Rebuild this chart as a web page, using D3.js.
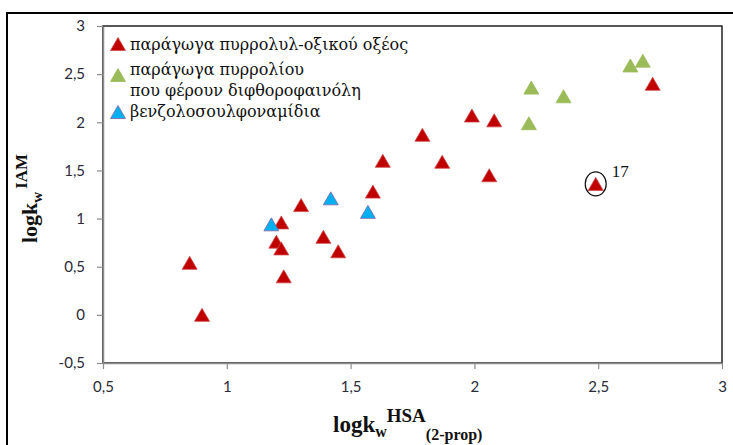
<!DOCTYPE html>
<html>
<head>
<meta charset="utf-8">
<script src="https://cdn.jsdelivr.net/npm/d3@7"></script>
<style>
  html, body { margin: 0; padding: 0; background: #fff; }
  svg { display: block; }
</style>
</head>
<body>
<svg id="chart" width="733" height="445"></svg>
<script>
// Three compound families: x = logkw HSA (2-prop), y = logkw IAM
const redX   = [0.85, 0.90, 1.22, 1.20, 1.22, 1.23, 1.30, 1.39, 1.45, 1.59, 1.63, 1.79, 1.87, 1.99, 2.08, 2.06, 2.49, 2.72];
const redY   = [0.54, 0.00, 0.96, 0.76, 0.69, 0.40, 1.14, 0.81, 0.66, 1.28, 1.60, 1.87, 1.59, 2.07, 2.02, 1.45, 1.36, 2.40];
const greenX = [2.23, 2.22, 2.36, 2.63, 2.68];
const greenY = [2.36, 1.99, 2.27, 2.59, 2.64];
const blueX  = [1.18, 1.42, 1.57];
const blueY  = [0.94, 1.21, 1.07];

const xTicks = [0.5, 1, 1.5, 2, 2.5, 3];
const yTicks = [-0.5, 0, 0.5, 1, 1.5, 2, 2.5, 3];

const seriesNames = [
  ["παράγωγα πυρρολυλ-οξικού οξέος"],
  ["παράγωγα πυρρολίου", "που φέρουν διφθοροφαινόλη"],
  ["βενζολοσουλφοναμίδια"]
];

// highlighted compound (red series) and its label
const highlightIndex = 16;
const highlightLabel = "17";

const svg = d3.select("#chart");
const fmt = v => String(v).replace(".", ",");

const x = d3.scaleLinear().domain([0.5, 3]).range([103, 722]);
const y = d3.scaleLinear().domain([-0.5, 3]).range([363, 26]);

// outer chart frame
svg.append("rect")
  .attr("x", 7).attr("y", 13).attr("width", 760).attr("height", 460)
  .attr("fill", "none").attr("stroke", "#000").attr("stroke-width", 2);

// plot area border
svg.append("rect")
  .attr("x", x(0.5)).attr("y", y(3))
  .attr("width", x(3) - x(0.5)).attr("height", y(-0.5) - y(3))
  .attr("fill", "none").attr("stroke", "#222").attr("stroke-width", 1.5);

// axes
const tickFont = "Lato, 'Liberation Sans', sans-serif";
const yAxis = svg.append("g")
  .attr("transform", `translate(${x(0.5)},0)`)
  .call(d3.axisLeft(y).tickValues(yTicks).tickFormat(fmt).tickSize(6).tickPadding(10).tickSizeOuter(0));
const xAxis = svg.append("g")
  .attr("transform", `translate(0,${y(-0.5)})`)
  .call(d3.axisBottom(x).tickValues(xTicks).tickFormat(fmt).tickSize(6).tickPadding(10).tickSizeOuter(0));

[xAxis, yAxis].forEach(g => {
  g.select(".domain").attr("stroke", "#8c8c8c").attr("stroke-width", 1.5);
  g.selectAll(".tick line").attr("stroke", "#8c8c8c").attr("stroke-width", 1.2);
  g.selectAll(".tick text")
    .attr("fill", "#2b2b3a")
    .style("font-family", tickFont)
    .style("font-size", "15px");
});
yAxis.selectAll(".tick text").attr("dx", "-2");
xAxis.selectAll(".tick text").attr("dy", "0.85em");

// triangle marker, centred on its bounding box
const tri = "M0,-6.5L7.5,6.5L-7.5,6.5Z";

function drawSeries(xs, ys, fill, stroke) {
  svg.append("g").selectAll("path")
    .data(xs.map((v, i) => [v, ys[i]]))
    .join("path")
    .attr("d", tri)
    .attr("transform", d => `translate(${x(d[0])},${y(d[1])})`)
    .attr("fill", fill)
    .attr("stroke", stroke)
    .attr("stroke-width", 0.8)
    .attr("stroke-linejoin", "miter");
}

drawSeries(redX, redY, "#c00000", "#d04848");
drawSeries(greenX, greenY, "#9bbb59", "#9bbb59");
drawSeries(blueX, blueY, "#00b0f0", "#8064a2");

// highlighted compound
const serif = "'DejaVu Serif', 'Liberation Serif', serif";
const hx = x(redX[highlightIndex]), hy = y(redY[highlightIndex]);
svg.append("ellipse")
  .attr("cx", hx).attr("cy", hy).attr("rx", 10.5).attr("ry", 12)
  .attr("fill", "none").attr("stroke", "#111").attr("stroke-width", 1.2);
svg.append("text")
  .attr("x", hx + 16).attr("y", hy - 7)
  .style("font-family", "'Liberation Serif', 'DejaVu Serif', serif")
  .style("font-size", "17px")
  .attr("fill", "#111")
  .text(highlightLabel);

// legend
const legendColors = [["#c00000", "#d04848"], ["#9bbb59", "#9bbb59"], ["#00b0f0", "#8064a2"]];
const legendBase = [[50], [75, 96], [117]];
const legendMarkerY = [44, 75, 112];
const legend = svg.append("g");
seriesNames.forEach((lines, i) => {
  legend.append("path")
    .attr("d", tri)
    .attr("transform", `translate(118,${legendMarkerY[i]})`)
    .attr("fill", legendColors[i][0])
    .attr("stroke", legendColors[i][1])
    .attr("stroke-width", 0.8);
  lines.forEach((t, j) => {
    legend.append("text")
      .attr("x", 130).attr("y", legendBase[i][j])
      .style("font-family", serif)
      .style("font-size", "16px")
      .attr("fill", "#111")
      .text(t);
  });
});

// axis titles
const titleFont = "'Liberation Serif', serif";
const xt = svg.append("text")
  .attr("x", 333).attr("y", 432)
  .style("font-family", titleFont).style("font-weight", "bold")
  .style("font-size", "23px").attr("fill", "#111");
xt.append("tspan").text("logk");
xt.append("tspan").attr("dy", 5).style("font-size", "16px").text("w");
xt.append("tspan").attr("dy", -15).style("font-size", "19px").text("HSA");
xt.append("tspan").attr("dy", 18).style("font-size", "16px").text("(2-prop)");

const yt = svg.append("text")
  .attr("transform", "translate(37,243) rotate(-90)")
  .style("font-family", titleFont).style("font-weight", "bold")
  .style("font-size", "22px").attr("fill", "#111");
yt.append("tspan").text("logk");
yt.append("tspan").attr("dy", 5).style("font-size", "15px").text("w");
yt.append("tspan").attr("dx", 3).attr("dy", -15).style("font-size", "17px").text("IAM");
</script>
</body>
</html>
